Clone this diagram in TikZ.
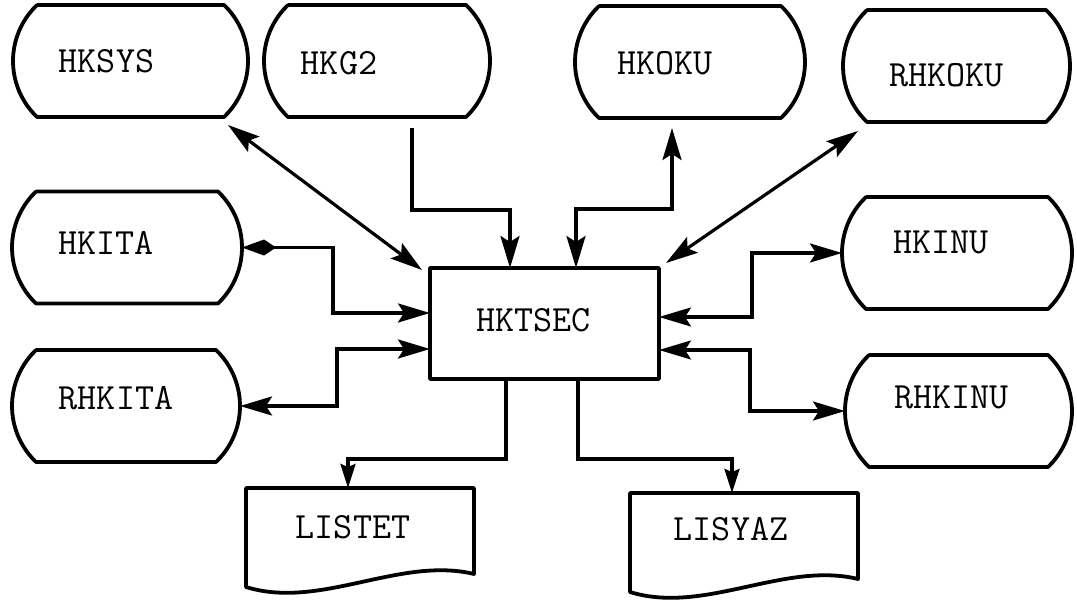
\documentclass[tikz,border=0pt]{standalone}
\usepackage{fontspec}
\usetikzlibrary{arrows.meta,calc}
\tikzset{
  store/.style={draw=none, minimum width=#1, minimum height=112pt, inner sep=0pt, outer sep=0pt},
  docbox/.style={draw=none, minimum width=228pt, minimum height=100pt, inner sep=0pt, outer sep=0pt},
  lbl/.style={font=\ttfamily\fontsize{37pt}{37pt}\selectfont, inner sep=0pt},
  shp/.style={line width=3.8pt, line join=round},
  con/.style={line width=3.2pt},
  tipbig/.tip={Stealth[length=32pt,width=19pt,inset=6pt]},
  tipsmall/.tip={Stealth[length=24pt,width=15pt,inset=3pt]},
  tipkite/.tip={Kite[length=34pt,width=16pt,inset=12pt]}
}
\newcommand\storeoutline[1]{%
  \draw[shp] ($(#1.north west)+(24,0)$) -- ($(#1.north east)+(-24,0)$)
    arc[start angle=-46.4, end angle=46.4, radius=77.33]
    -- ($(#1.south west)+(24,0)$)
    arc[start angle=133.6, end angle=226.4, radius=77.33] -- cycle;}
\newcommand\docoutline[1]{%
  \draw[shp] (#1.north west) -- (#1.north east) -- ($(#1.north east)+(0,86)$)
    .. controls ($(#1.north east)+(-74,68)$) and ($(#1.north west)+(74,122)$) ..
    ($(#1.north west)+(0,99)$) -- cycle;}
\begin{document}
\begin{tikzpicture}[x=1pt,y=-1pt]
\useasboundingbox (0,0) rectangle (1077,602);
% storage nodes
\node[store=235pt, label={[lbl,xshift=-24pt]center:HKSYS}] (hksys) at (130.5,61) {};
\node[store=226pt, label={[lbl,xshift=-38pt,yshift=-2pt]center:HKG2}] (hkg2) at (377,61) {};
\node[store=230pt, label={[lbl,xshift=-25pt,yshift=-1pt]center:HKOKU}] (hkoku) at (690,62) {};
\node[store=227pt, label={[lbl,xshift=-10pt,yshift=-9pt]center:RHKOKU}] (rhkoku) at (956.5,66) {};
\node[store=230pt, label={[lbl,xshift=-21pt,yshift=5pt]center:HKITA}] (hkita) at (127,247.5) {};
\node[store=228pt, label={[lbl,xshift=-10pt,yshift=8pt]center:RHKITA}] (rhkita) at (126,406) {};
\node[store=230pt, label={[lbl,xshift=-16pt,yshift=11pt]center:HKINU}] (hkinu) at (957,253) {};
\node[store=227pt, label={[lbl,xshift=-7pt,yshift=14pt]center:RHKINU}] (rhkinu) at (958.5,411) {};
\foreach \n in {hksys,hkg2,hkoku,rhkoku,hkita,rhkita,hkinu,rhkinu}{\storeoutline{\n}}
% central process
\node[draw, shp, minimum width=229pt, minimum height=111pt, inner sep=0pt, outer sep=0pt,
      label={[lbl,xshift=-11pt,yshift=3pt]center:HKTSEC}] (hktsec) at (544.5,323.5) {};
% documents
\node[docbox, label={[lbl,xshift=-7pt,yshift=11pt]center:LISTET}] (listet) at (360,538) {};
\node[docbox, label={[lbl,xshift=-13pt,yshift=14pt]center:LISYAZ}] (lisyaz) at (744,543) {};
\docoutline{listet}
\docoutline{lisyaz}
% connectors
\draw[con,{tipbig}-{tipbig}] ($(hksys.south east)+(-20,8)$) -- ($(hktsec.north west)+(-8,2)$);
\draw[con,-{tipbig}] ($(hkg2.south)+(35,11)$) -- ++(0,82) -| ($(hktsec.north)+(-34.5,0)$);
\draw[con,{tipbig}-{tipbig}] ($(hktsec.north)+(31.5,0)$) -- ++(0,-59) -| ($(hkoku.south)+(-18,10)$);
\draw[con,{tipbig}-{tipbig}] ($(rhkoku.south)+(-98.5,9)$) -- ($(hktsec.north east)+(7,-5)$);
\draw[con,{tipkite}-{tipbig}] (hkita.east) -- ++(91,0) |- ($(hktsec.west)+(0,-10.5)$);
\draw[con,{tipbig}-{tipbig}] (rhkita.east) -- ++(97,0) |- ($(hktsec.west)+(0,25.5)$);
\draw[con,{tipbig}-{tipbig}] (hkinu.west) -- ++(-90,0) |- ($(hktsec.east)+(0,-6.5)$);
\draw[con,{tipbig}-{tipbig}] (rhkinu.west) -- ++(-95,0) |- ($(hktsec.east)+(0,26.5)$);
\draw[con,-{tipsmall}] ($(hktsec.south)+(-38.5,0)$) -- ++(0,80) -| ($(listet.north)+(-12,0)$);
\draw[con,-{tipsmall}] ($(hktsec.south)+(33.5,0)$) -- ++(0,80) -| ($(lisyaz.north)+(-12,0)$);
\end{tikzpicture}
\end{document}
